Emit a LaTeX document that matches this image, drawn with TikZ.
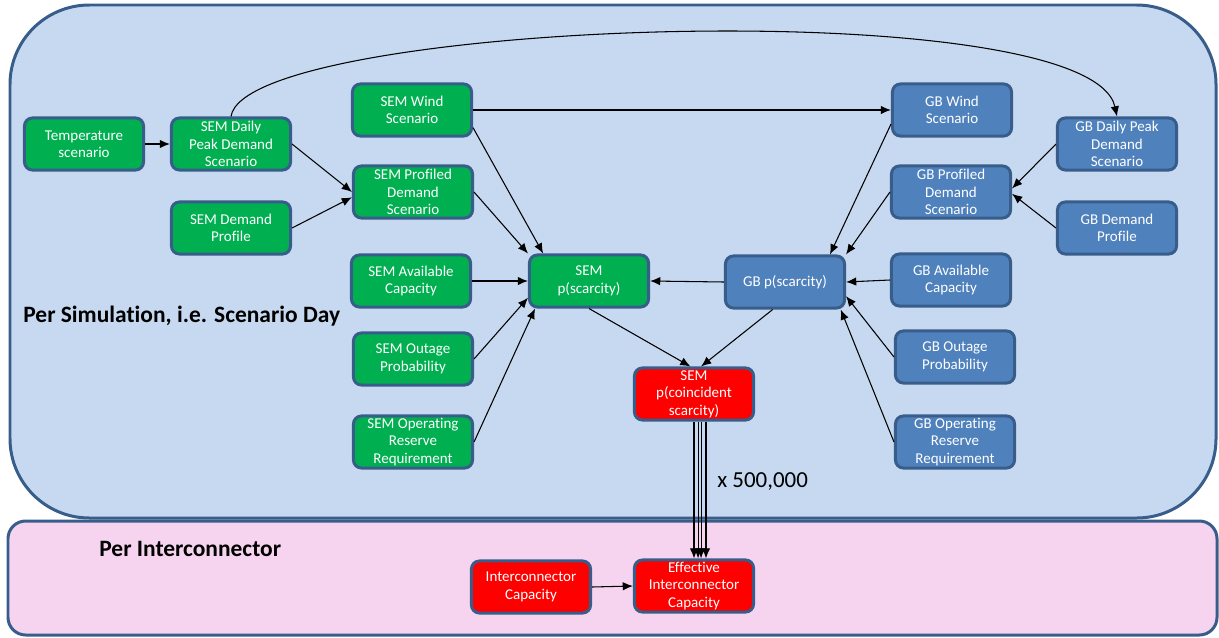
\documentclass[tikz,border=0pt]{standalone}
\usepackage{fontspec}
\setmainfont{Carlito}[Ligatures=NoCommon]
\usetikzlibrary{arrows.meta, positioning, calc}
\definecolor{semgreen}{RGB}{0,176,80}
\definecolor{gbblue}{RGB}{79,129,189}
\definecolor{icred}{RGB}{255,0,0}
\definecolor{edgeblue}{RGB}{56,93,138}
\definecolor{simbg}{RGB}{198,217,240}
\definecolor{icbg}{RGB}{246,211,238}

\begin{document}
\begin{tikzpicture}[
  x=0.567pt, y=-0.567pt,
  cbox/.style={draw=edgeblue, line width=1.7pt, rounded corners=4.5pt, align=center, text=white, inner sep=1pt, minimum width=67.5pt, minimum height=29.5pt, font=\fontsize{8.5}{9.9}\selectfont},
  sembox/.style={cbox, fill=semgreen},
  gbbox/.style={cbox, fill=gbblue},
  redbox/.style={cbox, fill=icred},
  region/.style={draw=edgeblue, line width=1.7pt},
  title/.style={anchor=west, inner sep=0pt, font=\fontsize{13.3}{15}\selectfont\bfseries},
  link/.style={-{Latex[length=5.8pt,width=4.8pt]}, line width=0.6pt}
]
  \useasboundingbox (0,0) rectangle (1219,637);
  \draw[region, fill=simbg, rounded corners=45pt] (10,5) rectangle (1216,518);
  \draw[region, fill=icbg, rounded corners=10pt] (8,521) rectangle (1217,635);

  \node[title] (simlabel) at (23,316) {Per Simulation, i.e. Scenario Day};
  \node[title] (iclabel) at (99,549) {Per Interconnector};
  \node[anchor=west, inner sep=0pt, font=\fontsize{13}{15}\selectfont] (mult) at (717,482) {x 500,000};

  \node[sembox] (temp) at (84,144) {Temperature\\scenario};
  \node[sembox] (semdaily) at (231,144) {SEM Daily\\Peak Demand\\Scenario};
  \node[sembox] (semprof) at (231,228) {SEM Demand\\Profile};
  \node[sembox] (semwind) at (412,110) {SEM Wind\\Scenario};
  \node[sembox] (semprofiled) at (413,192) {SEM Profiled\\Demand\\Scenario};
  \node[sembox] (semavail) at (411,281) {SEM Available\\Capacity};
  \node[sembox] (semoutage) at (413,359) {SEM Outage\\Probability};
  \node[sembox] (semreserve) at (413,442) {SEM Operating\\Reserve\\Requirement};
  \node[sembox] (semscar) at (589,281) {SEM\\p(scarcity)};

  \node[gbbox] (gbscar) at (785,282) {GB p(scarcity)};
  \node[gbbox] (gbwind) at (952,110) {GB Wind\\Scenario};
  \node[gbbox] (gbdaily) at (1117,144) {GB Daily Peak\\Demand\\Scenario};
  \node[gbbox] (gbprofiled) at (951,192) {GB Profiled\\Demand\\Scenario};
  \node[gbbox] (gbprof) at (1117,228) {GB Demand\\Profile};
  \node[gbbox] (gbavail) at (951,280) {GB Available\\Capacity};
  \node[gbbox] (gboutage) at (955,357) {GB Outage\\Probability};
  \node[gbbox] (gbreserve) at (955,442) {GB Operating\\Reserve\\Requirement};

  \node[redbox] (coinc) at (694,394) {SEM\\p(coincident\\scarcity)};
  \node[redbox] (iccap) at (531,587) {Interconnector\\Capacity};
  \node[redbox] (effcap) at (694,586) {Effective\\Interconnector\\Capacity};

  \draw[link] (temp.east) -- (semdaily.west);
  \draw[link] (semdaily.east) -- (semprofiled.west);
  \draw[link] (semprof.east) -- ([yshift=-3pt]semprofiled.west);
  \draw[link] (semdaily.north) .. controls (245,20) and (1090,-10) .. (gbdaily.north);
  \draw[link] (semwind.east) -- (gbwind.west);
  \draw[link] ([yshift=-10pt]semwind.east) -- ([xshift=-26pt]semscar.north);
  \draw[link] (semprofiled.east) -- (semscar.north west);
  \draw[link] (semavail.east) -- (semscar.west);
  \draw[link] (semoutage.east) -- ([yshift=-9.5pt]semscar.west);
  \draw[link] (semreserve.east) -- ([xshift=4pt]semscar.south west);
  \draw[link] (gbscar.west) -- (semscar.east);
  \draw[link] (semscar.south) -- ([xshift=-2pt]coinc.north);
  \draw[link] ([xshift=-7pt]gbscar.south) -- ([xshift=4pt]coinc.north);
  \draw[link] ([yshift=-8pt]gbwind.west) -- ([xshift=25.5pt]gbscar.north);
  \draw[link] (gbprofiled.west) -- (gbscar.north east);
  \draw[link] (gbavail.west) -- (gbscar.east);
  \draw[link] (gboutage.west) -- ([yshift=-8pt]gbscar.east);
  \draw[link] (gbreserve.west) -- ([xshift=-3pt]gbscar.south east);
  \draw[link] (gbdaily.west) -- ([yshift=2pt]gbprofiled.east);
  \draw[link] (gbprof.west) -- ([yshift=-1pt]gbprofiled.east);
  \foreach \dx in {0,2.3,4,6.8}
    \draw[link] ([xshift=\dx pt]coinc.south) -- ([xshift=\dx pt]effcap.north);
  \draw[link] (iccap.east) -- (effcap.west);
\end{tikzpicture}
\end{document}
